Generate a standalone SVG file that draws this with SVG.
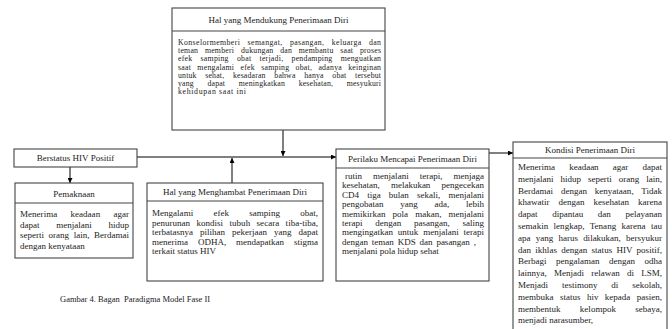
<svg xmlns="http://www.w3.org/2000/svg" width="672" height="329" viewBox="0 0 672 329">
<defs>
<marker id="ah" viewBox="0 0 10 10" refX="10" refY="5" markerWidth="5" markerHeight="5" orient="auto-start-reverse" markerUnits="userSpaceOnUse">
<path d="M0,0 L10,5 L0,10 z" fill="#000"/>
</marker>
<style>
.box{fill:#fff;stroke:#444;stroke-width:1.1}
.div{stroke:#444;stroke-width:1}
text{font-family:"Liberation Serif","Times New Roman",serif;font-size:9px;fill:#222}
.h{text-anchor:middle}
.s{font-size:7.8px}
.conn{stroke:#000;stroke-width:1;fill:none}
</style>
</defs>
<rect width="672" height="329" fill="#fff"/>

<g id="connectors">
<line class="conn" x1="283" y1="130" x2="283" y2="156" marker-end="url(#ah)"/>
<line class="conn" x1="137" y1="157" x2="336" y2="157" marker-end="url(#ah)"/>
<line class="conn" x1="232" y1="183" x2="232" y2="158" marker-end="url(#ah)"/>
<line class="conn" x1="70" y1="167" x2="70" y2="183" marker-end="url(#ah)"/>
<line class="conn" x1="489" y1="153" x2="513" y2="153" marker-end="url(#ah)"/>
</g>

<g id="mendukung">
<rect class="box" x="172" y="8" width="213" height="122"/>
<line class="div" x1="172" y1="31" x2="385" y2="31"/>
<text class="h" x="278.5" y="23">Hal yang Mendukung Penerimaan Diri</text>
<text class="s" x="178" y="45" textLength="203" lengthAdjust="spacing" style="word-spacing:5px">Konselormemberi semangat, pasangan, keluarga dan</text>
<text class="s" x="178" y="53.2" textLength="203" lengthAdjust="spacing" style="word-spacing:4.5px">teman memberi dukungan dan membantu saat proses</text>
<text class="s" x="178" y="61.4" textLength="203" lengthAdjust="spacing" style="word-spacing:6px">efek samping obat terjadi, pendamping menguatkan</text>
<text class="s" x="178" y="69.6" textLength="203" lengthAdjust="spacing" style="word-spacing:4px">saat mengalami efek samping obat, adanya keinginan</text>
<text class="s" x="178" y="77.8" textLength="203" lengthAdjust="spacing" style="word-spacing:6.5px">untuk sehat, kesadaran bahwa hanya obat tersebut</text>
<text class="s" x="178" y="86" textLength="203" lengthAdjust="spacing" style="word-spacing:11.5px">yang dapat meningkatkan kesehatan, mesyukuri</text>
<text class="s" x="178" y="94.2" textLength="68" lengthAdjust="spacing">kehidupan saat ini</text>
</g>

<g id="berstatus">
<rect class="box" x="14" y="149" width="123" height="18"/>
<text class="h" x="75.5" y="161">Berstatus HIV Positif</text>
</g>

<g id="pemaknaan">
<rect class="box" x="15" y="183" width="118" height="75"/>
<line class="div" x1="15" y1="203" x2="133" y2="203"/>
<text class="h" x="74" y="197">Pemaknaan</text>
<text x="20" y="217" textLength="109" lengthAdjust="spacing" style="word-spacing:11px">Menerima keadaan agar</text>
<text x="20" y="227.5" textLength="109" lengthAdjust="spacing" style="word-spacing:14.5px">dapat menjalani hidup</text>
<text x="20" y="238" textLength="109" lengthAdjust="spacing" style="word-spacing:2.3px">seperti orang lain, Berdamai</text>
<text x="20" y="248.5">dengan kenyataan</text>
</g>

<g id="menghambat">
<rect class="box" x="147" y="183" width="176" height="98"/>
<line class="div" x1="147" y1="201" x2="323" y2="201"/>
<text class="h" x="235" y="195">Hal yang Menghambat Penerimaan Diri</text>
<text x="152" y="216" textLength="166" lengthAdjust="spacing" style="word-spacing:18px">Mengalami efek samping obat,</text>
<text x="152" y="225.5" textLength="166" lengthAdjust="spacing" style="word-spacing:4.2px">penurunan kondisi tubuh secara tiba-tiba,</text>
<text x="152" y="235" textLength="166" lengthAdjust="spacing" style="word-spacing:4.7px">terbatasnya pilihan pekerjaan yang dapat</text>
<text x="152" y="244.5" textLength="166" lengthAdjust="spacing" style="word-spacing:7.6px">menerima ODHA, mendapatkan stigma</text>
<text x="152" y="254">terkait status HIV</text>
</g>

<g id="perilaku">
<rect class="box" x="336" y="149" width="153" height="132"/>
<line class="div" x1="336" y1="168" x2="489" y2="168"/>
<text class="h" x="412.5" y="162">Perilaku Mencapai Penerimaan Diri</text>
<text x="345" y="179" textLength="139" lengthAdjust="spacing" style="word-spacing:8.7px">rutin menjalani terapi, menjaga</text>
<text x="342" y="188.4" textLength="142" lengthAdjust="spacing" style="word-spacing:9px">kesehatan, melakukan pengecekan</text>
<text x="342" y="197.8" textLength="142" lengthAdjust="spacing" style="word-spacing:5.9px">CD4 tiga bulan sekali, menjalani</text>
<text x="342" y="207.2" textLength="142" lengthAdjust="spacing" style="word-spacing:14.4px">pengobatan yang ada, lebih</text>
<text x="342" y="216.6" textLength="142" lengthAdjust="spacing" style="word-spacing:4.8px">memikirkan pola makan, menjalani</text>
<text x="342" y="226" textLength="142" lengthAdjust="spacing" style="word-spacing:10.5px">terapi dengan pasangan, saling</text>
<text x="342" y="235.4" textLength="142" lengthAdjust="spacing" style="word-spacing:2.6px">mengingatkan untuk menjalani terapi</text>
<text x="342" y="244.8" style="word-spacing:1.6px">dengan teman KDS dan pasangan ,</text>
<text x="342" y="254.2">menjalani pola hidup sehat</text>
</g>

<g id="kondisi">
<rect class="box" x="513" y="142" width="154" height="200"/>
<line class="div" x1="513" y1="158" x2="667" y2="158"/>
<text class="h" x="590" y="153">Kondisi Penerimaan Diri</text>
<text x="518" y="170" textLength="144" lengthAdjust="spacing" style="word-spacing:12px">Menerima keadaan agar dapat</text>
<text x="518" y="181.8" textLength="144" lengthAdjust="spacing" style="word-spacing:4.7px">menjalani hidup seperti orang lain,</text>
<text x="518" y="193.6" textLength="144" lengthAdjust="spacing" style="word-spacing:5.5px">Berdamai dengan kenyataan, Tidak</text>
<text x="518" y="205.4" textLength="144" lengthAdjust="spacing" style="word-spacing:6.7px">khawatir dengan kesehatan karena</text>
<text x="518" y="217.2" textLength="144" lengthAdjust="spacing" style="word-spacing:12.4px">dapat dipantau dan pelayanan</text>
<text x="518" y="229" textLength="144" lengthAdjust="spacing" style="word-spacing:3px">semakin lengkap, Tenang karena tau</text>
<text x="518" y="240.8" textLength="144" lengthAdjust="spacing" style="word-spacing:3px">apa yang harus dilakukan, bersyukur</text>
<text x="518" y="252.6" textLength="144" lengthAdjust="spacing" style="word-spacing:2px">dan ikhlas dengan status HIV positif,</text>
<text x="518" y="264.4" textLength="144" lengthAdjust="spacing" style="word-spacing:7.3px">Berbagi pengalaman dengan odha</text>
<text x="518" y="276.2" textLength="144" lengthAdjust="spacing" style="word-spacing:5px">lainnya, Menjadi relawan di LSM,</text>
<text x="518" y="288" textLength="144" lengthAdjust="spacing" style="word-spacing:11.6px">Menjadi testimony di sekolah,</text>
<text x="518" y="299.8" textLength="144" lengthAdjust="spacing" style="word-spacing:4.2px">membuka status hiv kepada pasien,</text>
<text x="518" y="311.6" textLength="144" lengthAdjust="spacing" style="word-spacing:17px">membentuk kelompok sebaya,</text>
<text x="518" y="323.4">menjadi narasumber,</text>
</g>

<text x="60" y="302" xml:space="preserve" style="font-size:8.5px">Gambar 4. Bagan  Paradigma Model Fase II</text>
</svg>
